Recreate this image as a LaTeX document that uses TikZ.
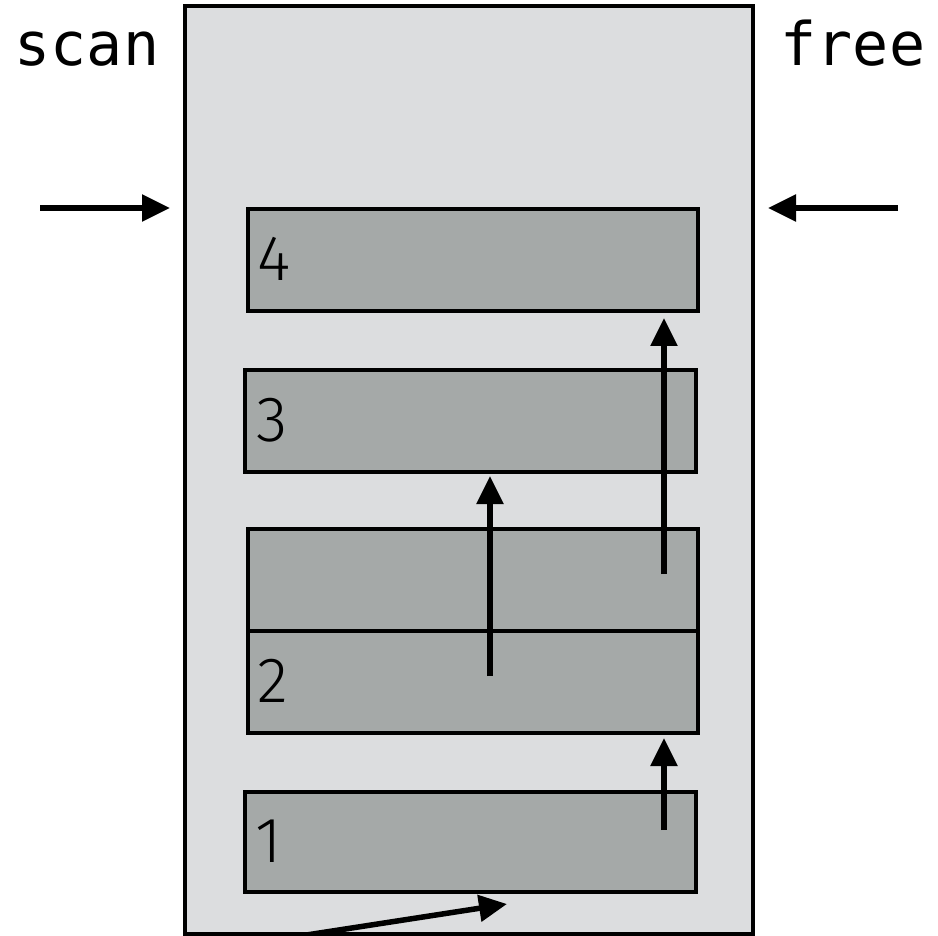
\documentclass[tikz,border=0pt]{standalone}
\usepackage{fontspec}
\usetikzlibrary{arrows.meta}
\newfontfamily\monof{DejaVu Sans Mono}
\newfontfamily\numf{Fira Sans}[UprightFont=* Light]
\definecolor{outerfill}{HTML}{DCDDDF}
\definecolor{innerfill}{HTML}{A5A9A8}
\begin{document}
\begin{tikzpicture}[x=1pt,y=-1pt,
  outerbox/.style={draw=black, line width=4pt, fill=outerfill, rectangle, anchor=north west, inner sep=0pt, outer sep=0pt},
  cell/.style={draw=black, line width=4pt, fill=innerfill, rectangle, anchor=north west, inner sep=0pt, outer sep=0pt},
  ptr/.style={line width=5.5pt, -{Triangle[length=28pt,width=26pt]}},
  lbl/.style={font=\fontsize{60}{62}\selectfont\monof, inner sep=0pt, anchor=base},
  num/.style={font=\fontsize{64}{66}\selectfont\numf, inner sep=0pt, anchor=base west}]
\useasboundingbox (0,0) rectangle (938,936);
\node[outerbox, minimum width=568pt, minimum height=928pt] (heap) at (185,6) {};
\node[cell, minimum width=450pt, minimum height=102pt] (b4) at (248,209) {};
\node[cell, minimum width=451pt, minimum height=102pt] (b3) at (245,370) {};
\node[cell, minimum width=450pt, minimum height=102pt] (b2t) at (248,529) {};
\node[cell, minimum width=450pt, minimum height=102pt] (b2b) at (248,631) {};
\node[cell, minimum width=451pt, minimum height=100pt] (b1) at (245,792) {};
\node[num] (n4) at (257,281) {4};
\node[num] (n3) at (256,441) {3};
\node[num] (n2) at (257,702) {2};
\node[num] (n1) at (255,862) {1};
\node[lbl] (scan) at (87,66) {scan};
\node[lbl] (free) at (853,66) {free};
\coordinate (s0) at (40,208);
\coordinate (s1) at (170,208);
\coordinate (f0) at (898,208);
\coordinate (f1) at (768,208);
\coordinate (a0) at (664,574);
\coordinate (a1) at (664,318);
\coordinate (c0) at (490,676);
\coordinate (c1) at (490,476);
\coordinate (d0) at (664,830);
\coordinate (d1) at (664,738);
\coordinate (e0) at (300,936);
\coordinate (e1) at (507,904);
\draw[ptr] (s0) -- (s1);
\draw[ptr] (f0) -- (f1);
\draw[ptr] (a0) -- (a1);
\draw[ptr] (c0) -- (c1);
\draw[ptr] (d0) -- (d1);
\draw[ptr] (e0) -- (e1);
\end{tikzpicture}
\end{document}
